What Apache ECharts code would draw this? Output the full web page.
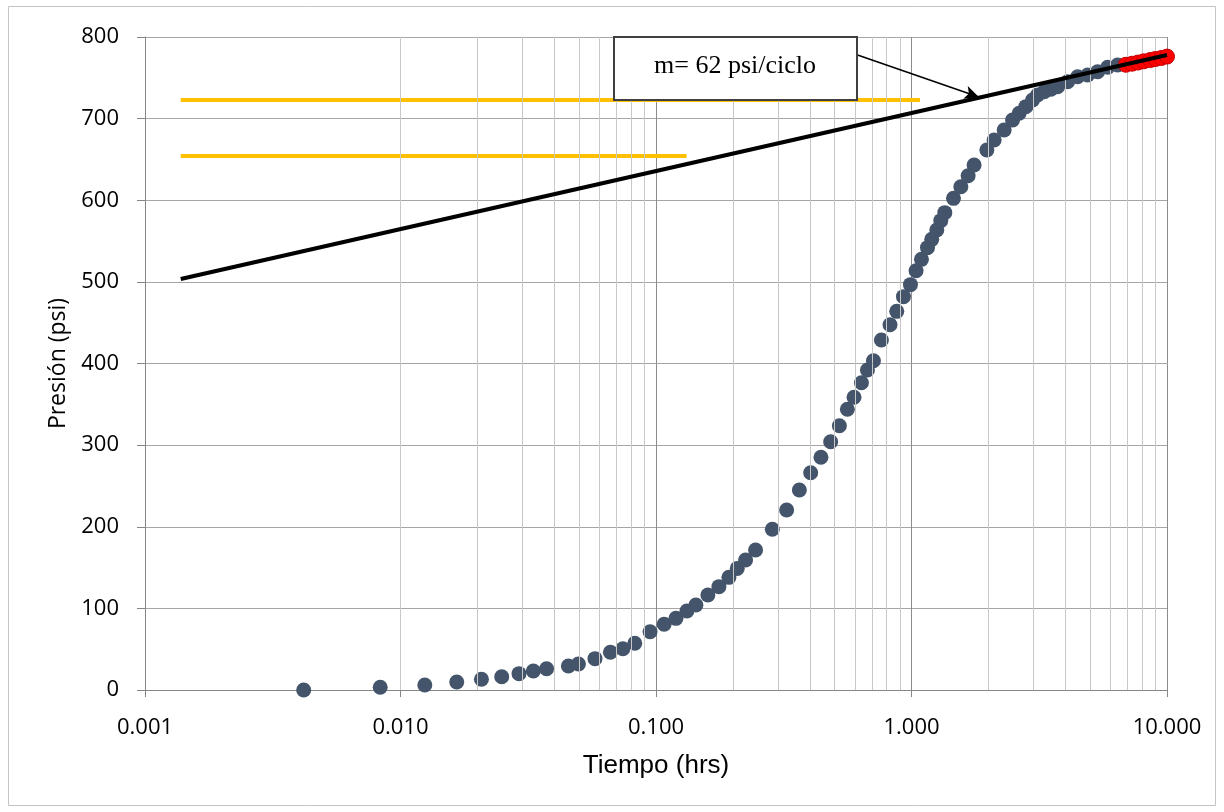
<!DOCTYPE html>
<html>
<head>
<meta charset="utf-8">
<script src="https://cdn.jsdelivr.net/npm/echarts@6/dist/echarts.min.js"></script>
<style>
html,body{margin:0;padding:0;background:#fff;}
#chart{width:1224px;height:812px;}
</style>
</head>
<body>
<div id="chart"></div>
<script>
// ---- data ----
const timeHrs = [0.00418, 0.00833, 0.01245, 0.0166, 0.02074, 0.0249, 0.0291, 0.0331, 0.0373, 0.0454, 0.0497, 0.0577, 0.0663, 0.0742, 0.0826, 0.0948, 0.1076, 0.1197, 0.1321, 0.1433, 0.1596, 0.1763, 0.1929, 0.208, 0.2242, 0.2453, 0.2853, 0.3246, 0.364, 0.4031, 0.4422, 0.4826, 0.522, 0.561, 0.5957, 0.6368, 0.6723, 0.7096, 0.7624, 0.824, 0.8756, 0.930, 0.9905, 1.042, 1.094, 1.155, 1.2, 1.256, 1.302, 1.35, 1.46, 1.56, 1.666, 1.758, 1.972, 2.106, 2.305, 2.486, 2.639, 2.803, 2.977, 3.114, 3.306, 3.513, 3.73, 4.083, 4.47, 4.89, 5.35, 5.86, 6.41];
const pressurePsi = [0, 3.3, 6.1, 9.8, 13.1, 16.3, 20, 23.3, 26.1, 29.4, 31.9, 38.4, 46.2, 50.6, 57.2, 71.4, 80.5, 87.8, 96.8, 104.1, 116.4, 126.6, 138, 149, 159.3, 171.5, 196.9, 220.5, 245, 266.2, 285.1, 304.2, 323.8, 343.9, 358.6, 376.5, 392, 403.4, 428.8, 447.5, 463.9, 481.9, 496.6, 513.7, 527.6, 541.9, 552.1, 563.6, 575, 584.8, 602.3, 616.6, 630.1, 643.2, 661.6, 673.8, 686, 698.3, 706.5, 714.7, 722.8, 729, 733, 735.9, 739.1, 745.2, 751.3, 753.4, 757.5, 762.9, 765.7];
const redTime = [6.9, 7.3, 7.7, 8.1, 8.6, 9.0, 9.5, 10.0];
const redPressure = [766, 767.3, 768.7, 770.2, 771.8, 773, 774.3, 776];
const trendTime = [0.00138, 10];
const trendPressure = [503.5, 778];
const yellowTopTime = [0.00138, 1.08];
const yellowTopPressure = [722.8, 722.8];
const yellowBottomTime = [0.00138, 0.1317];
const yellowBottomPressure = [654.2, 654.2];
const arrowFrom = [0.615, 778];
const arrowTo = [1.834, 726.5];
const annotationText = 'm= 62 psi/ciclo';
const xTickLabels = ['0.001', '0.010', '0.100', '1.000', '10.000'];
const yTicks = [0, 100, 200, 300, 400, 500, 600, 700, 800];

const zip = (a, b) => a.map((v, i) => [v, b[i]]);

// minor log grid lines (2..9 per decade)
const minorLines = [];
[0.001, 0.01, 0.1, 1].forEach(d => { for (let k = 2; k <= 9; k++) minorLines.push({ xAxis: +(k * d).toPrecision(3) }); });

const chart = echarts.init(document.getElementById('chart'));
chart.setOption({
  animation: false,
  grid: { left: 145, right: 57, top: 37, bottom: 122, containLabel: false },
  xAxis: {
    type: 'log', logBase: 10, min: 0.001, max: 10,
    name: 'Tiempo (hrs)', nameLocation: 'middle', nameGap: 63,
    nameTextStyle: { fontFamily: 'Liberation Sans', fontSize: 26, color: '#000' },
    axisLine: { show: true, lineStyle: { color: '#868686', width: 1 } },
    axisTick: { show: true, length: 7, lineStyle: { color: '#868686' } },
    axisLabel: {
      margin: 27, fontFamily: 'Open Sans', fontSize: 22, color: '#000',
      formatter: v => { const i = Math.round(Math.log10(v) + 3); return xTickLabels[i] !== undefined ? xTickLabels[i] : ''; }
    },
    splitLine: { show: true, lineStyle: { color: '#8c8c8c', width: 1 } },
    minorTick: { show: false }, minorSplitLine: { show: false }
  },
  yAxis: {
    type: 'value', min: 0, max: 800, interval: 100,
    name: 'Presión (psi)', nameLocation: 'middle', nameGap: 74,
    nameTextStyle: { fontFamily: 'Open Sans', fontSize: 23, color: '#000' },
    axisLine: { show: true, lineStyle: { color: '#868686', width: 1 } },
    axisTick: { show: true, length: 8, lineStyle: { color: '#868686' } },
    axisLabel: { margin: 26, fontFamily: 'Open Sans', fontSize: 22, color: '#000',
      formatter: v => yTicks.includes(v) ? String(v) : '' },
    splitLine: { show: true, lineStyle: { color: '#a6a6a6', width: 1 } }
  },
  graphic: [
    { type: 'rect', shape: { x: 8.5, y: 6.5, width: 1207, height: 799 }, style: { fill: 'none', stroke: '#c4c4c4', lineWidth: 1 }, z: -10, silent: true },
    { type: 'rect', shape: { x: 614, y: 37, width: 243, height: 63 }, style: { fill: '#fff', stroke: '#404040', lineWidth: 2 }, z: 100 },
    { type: 'text', x: 735, y: 66, style: { text: annotationText, fontFamily: 'Liberation Serif', fontSize: 26, fill: '#000', align: 'center', verticalAlign: 'middle' }, z: 101 }
  ],
  series: [
    {
      type: 'line', data: [], silent: true, z: 1,
      markLine: { silent: true, symbol: 'none', label: { show: false }, animation: false,
        lineStyle: { color: '#c8c8c8', width: 1, type: 'solid' }, data: minorLines }
    },
    { type: 'line', data: zip(yellowTopTime, yellowTopPressure), symbol: 'none', lineStyle: { color: '#FFC000', width: 4 }, z: 3 },
    { type: 'line', data: zip(yellowBottomTime, yellowBottomPressure), symbol: 'none', lineStyle: { color: '#FFC000', width: 4 }, z: 3 },
    { type: 'scatter', data: zip(timeHrs, pressurePsi), symbol: 'circle', symbolSize: 15, clip: false, itemStyle: { color: '#44546A', opacity: 1 }, z: 4 },
    { type: 'scatter', data: zip(redTime, redPressure), symbol: 'circle', symbolSize: 15, clip: false, itemStyle: { color: '#FF0000', borderColor: '#C00000', borderWidth: 1, opacity: 1 }, z: 5 },
    {
      type: 'line', data: zip(trendTime, trendPressure), symbol: 'none', lineStyle: { color: '#000', width: 4 }, z: 6,
      markLine: { silent: true, symbol: ['none', 'arrow'], symbolSize: [10, 14], label: { show: false }, animation: false,
        lineStyle: { color: '#000', width: 1.5, type: 'solid' },
        data: [[{ coord: arrowFrom }, { coord: arrowTo }]] }
    }
  ]
});
</script>
</body>
</html>
